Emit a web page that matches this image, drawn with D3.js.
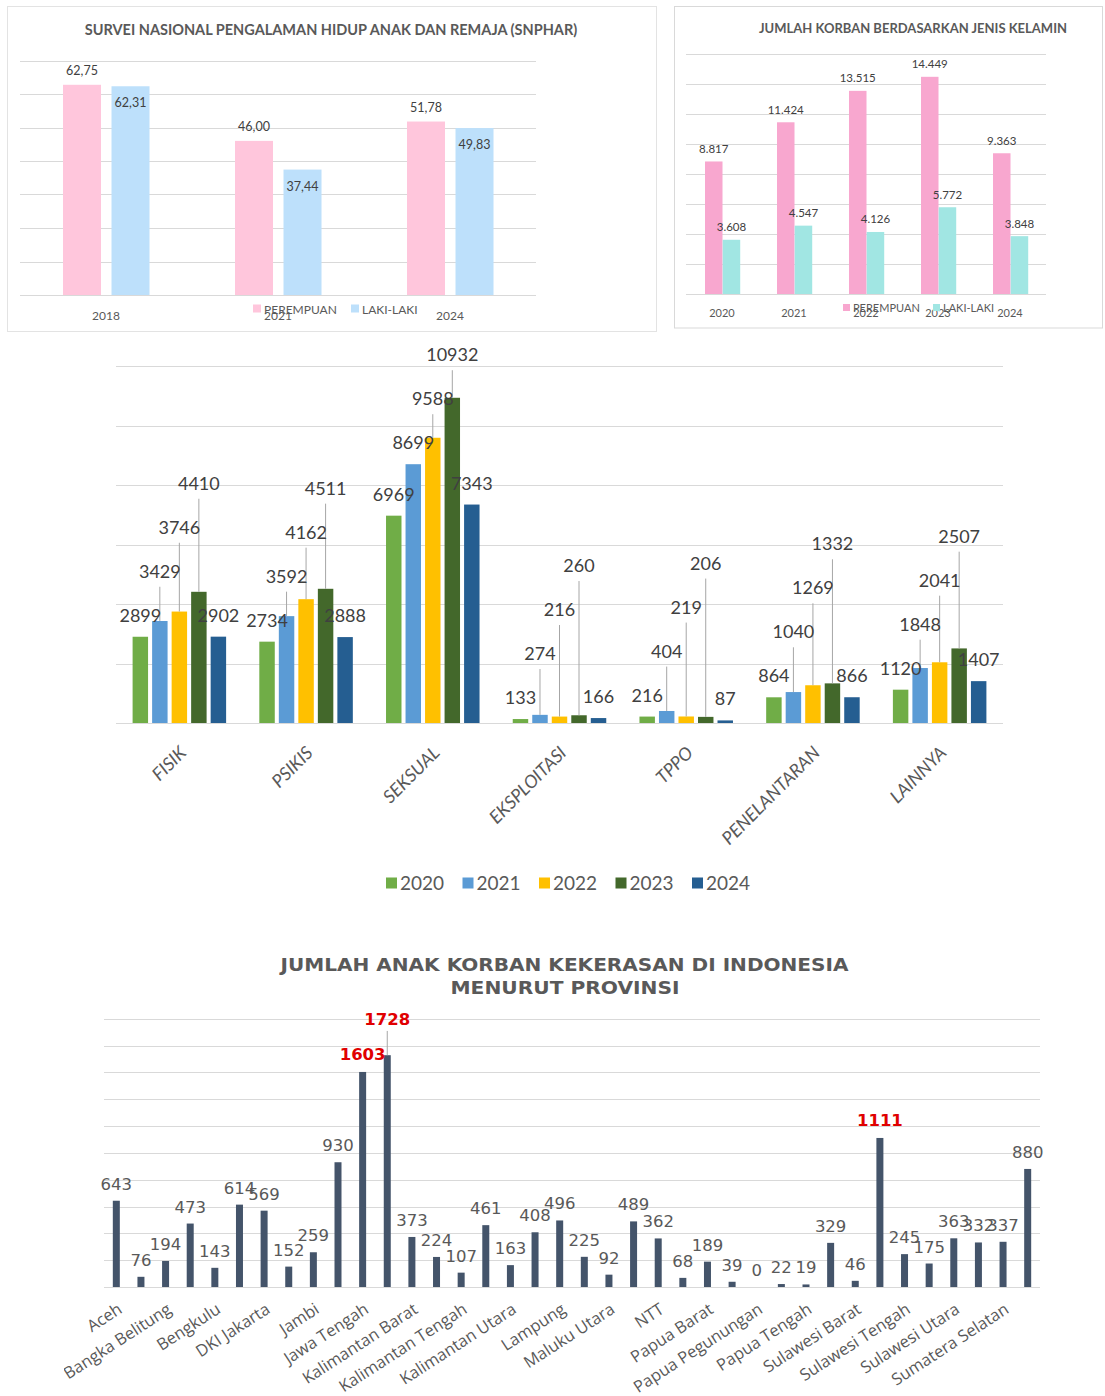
<!DOCTYPE html>
<html>
<head>
<meta charset="utf-8">
<script src="https://cdn.jsdelivr.net/npm/d3@7"></script>
<style>
  html, body { margin: 0; padding: 0; background: #fff; }
  svg { display: block; }
</style>
</head>
<body>
<svg id="chart" width="1105" height="1396"></svg>
<script>
// ---------- SNPHAR survey (percent) ----------
const snpharYears = ["2018", "2021", "2024"];
const snpharPerempuan = [62.75, 46.00, 51.78];
const snpharLaki = [62.31, 37.44, 49.83];
const snpharTicks = [0, 10, 20, 30, 40, 50, 60, 70];

// ---------- Victims by sex ----------
const genderYears = ["2020", "2021", "2022", "2023", "2024"];
const korbanPerempuan = [8817, 11424, 13515, 14449, 9363];
const korbanLaki = [3608, 4547, 4126, 5772, 3848];
const genderTicks = [0, 2000, 4000, 6000, 8000, 10000, 12000, 14000, 16000];

// ---------- Victims by type of violence ----------
const jenisKategori = ["FISIK", "PSIKIS", "SEKSUAL", "EKSPLOITASI", "TPPO", "PENELANTARAN", "LAINNYA"];
const jenisTahun = ["2020", "2021", "2022", "2023", "2024"];
const jenis2020 = [2899, 2734, 6969, 133, 216, 864, 1120];
const jenis2021 = [3429, 3592, 8699, 274, 404, 1040, 1848];
const jenis2022 = [3746, 4162, 9588, 216, 219, 1269, 2041];
const jenis2023 = [4410, 4511, 10932, 260, 206, 1332, 2507];
const jenis2024 = [2902, 2888, 7343, 166, 87, 866, 1407];
const jenisTicks = [0, 2000, 4000, 6000, 8000, 10000, 12000];

// ---------- Child victims by province ----------
const provinsi = [
  "Aceh", "Bali", "Bangka Belitung", "Banten", "Bengkulu", "DI Yogyakarta",
  "DKI Jakarta", "Gorontalo", "Jambi", "Jawa Barat", "Jawa Tengah", "Jawa Timur",
  "Kalimantan Barat", "Kalimantan Selatan", "Kalimantan Tengah", "Kalimantan Timur",
  "Kalimantan Utara", "Kepulauan Riau", "Lampung", "Maluku", "Maluku Utara", "NTB",
  "NTT", "Papua", "Papua Barat", "Papua Barat Daya", "Papua Pegunungan", "Papua Selatan",
  "Papua Tengah", "Riau", "Sulawesi Barat", "Sulawesi Selatan", "Sulawesi Tengah",
  "Sulawesi Tenggara", "Sulawesi Utara", "Sumatera Barat", "Sumatera Selatan", "Sumatera Utara"
];
const korbanProvinsi = [
  643, 76, 194, 473, 143, 614, 569, 152, 259, 930, 1603, 1728, 373, 224, 107, 461, 163, 408,
  496, 225, 92, 489, 362, 68, 189, 39, 0, 22, 19, 329, 46, 1111, 245, 175, 363, 332, 337, 880
];
const provinsiSorotan = ["Jawa Tengah", "Jawa Timur", "Sulawesi Selatan"];
const provinsiTicks = [0, 200, 400, 600, 800, 1000, 1200, 1400, 1600, 1800, 2000];

// ---------- styling ----------
const palette = {
  pinkSoft: "#ffc6dc", blueSoft: "#bde0fb",
  pink: "#f8a7cf", teal: "#a1e6e3",
  years: ["#70ad47", "#5b9bd5", "#ffc000", "#43682b", "#255e91"],
  slate: "#44546a", grid: "#d9d9d9", text: "#595959", label: "#404040",
  leader: "#a6a6a6", red: "#e00000"
};
const sans = "Lato, 'Open Sans', sans-serif";

const svg = d3.select("#chart");
svg.append("rect").attr("width", 1105).attr("height", 1396).attr("fill", "#fff");
const defs = svg.append("defs");

function gridLines(g, ticks, y, x0, x1) {
  g.append("g").selectAll("line").data(ticks).join("line")
    .attr("x1", x0).attr("x2", x1)
    .attr("y1", d => Math.round(y(d)) + 0.5).attr("y2", d => Math.round(y(d)) + 0.5)
    .attr("stroke", palette.grid).attr("stroke-width", 1.2);
}

// =============== Panel 1: SNPHAR ===============
{
  const g = svg.append("g");
  g.append("rect").attr("x", 7.5).attr("y", 6.5).attr("width", 649).attr("height", 325)
    .attr("fill", "none").attr("stroke", "#e3e3e3");
  g.append("text").attr("x", 331).attr("y", 35).attr("text-anchor", "middle")
    .attr("font-family", sans).attr("font-weight", 700).attr("font-size", 14.5)
    .attr("fill", palette.text)
    .text("SURVEI NASIONAL PENGALAMAN HIDUP ANAK DAN REMAJA (SNPHAR)");

  const x = d3.scaleBand().domain(snpharYears).range([20, 536]);
  const y = d3.scaleLinear().domain([0, 70]).range([295, 60.5]);
  const bw = x.bandwidth();
  gridLines(g, snpharTicks, y, 20, 536);

  const series = [
    { vals: snpharPerempuan, color: palette.pinkSoft, off: 0.25, inside: false },
    { vals: snpharLaki, color: palette.blueSoft, off: 0.532, inside: true }
  ];
  series.forEach(s => {
    g.append("g").selectAll("rect").data(snpharYears).join("rect")
      .attr("x", d => x(d) + bw * s.off).attr("width", bw * 0.221)
      .attr("y", (d, i) => y(s.vals[i])).attr("height", (d, i) => y(0) - y(s.vals[i]))
      .attr("fill", s.color);
    g.append("g").selectAll("text").data(snpharYears).join("text")
      .attr("x", d => x(d) + bw * (s.off + 0.1105))
      .attr("y", (d, i) => s.inside ? y(s.vals[i]) + 21 : y(s.vals[i]) - 10)
      .attr("text-anchor", "middle").attr("font-family", sans).attr("font-size", 12.5)
      .attr("fill", palette.label)
      .text((d, i) => d3.format(".2f")(s.vals[i]).replace(".", ","));
  });
  g.append("g").selectAll("text").data(snpharYears).join("text")
    .attr("x", d => x(d) + bw / 2).attr("y", 320).attr("text-anchor", "middle")
    .attr("font-family", sans).attr("font-size", 12).attr("fill", palette.text).text(d => d);

  const leg = [["PEREMPUAN", palette.pinkSoft, 253], ["LAKI-LAKI", palette.blueSoft, 351]];
  leg.forEach(([name, c, lx]) => {
    g.append("rect").attr("x", lx).attr("y", 304.5).attr("width", 8).attr("height", 8).attr("fill", c);
    g.append("text").attr("x", lx + 11).attr("y", 314).attr("font-family", sans)
      .attr("font-size", 12).attr("fill", palette.text).text(name);
  });
}

// =============== Panel 2: victims by sex ===============
{
  const g = svg.append("g");
  g.append("rect").attr("x", 674.5).attr("y", 6.5).attr("width", 428).attr("height", 321.5)
    .attr("fill", "none").attr("stroke", "#d9d9d9");
  g.append("text").attr("x", 913).attr("y", 33).attr("text-anchor", "middle")
    .attr("font-family", sans).attr("font-weight", 700).attr("font-size", 13)
    .attr("fill", palette.text).text("JUMLAH KORBAN BERDASARKAN JENIS KELAMIN");

  const x = d3.scaleBand().domain(genderYears).range([686, 1046]);
  const y = d3.scaleLinear().domain([0, 16000]).range([294, 53.5]);
  const bw = x.bandwidth();
  gridLines(g, genderTicks, y, 686, 1046);
  const fmt = d3.formatLocale({ decimal: ",", thousands: ".", grouping: [3], currency: ["", ""] }).format(",d");

  const series = [
    { vals: korbanPerempuan, color: palette.pink, off: 0.264 },
    { vals: korbanLaki, color: palette.teal, off: 0.51 }
  ];
  series.forEach(s => {
    g.append("g").selectAll("rect").data(genderYears).join("rect")
      .attr("x", d => x(d) + bw * s.off).attr("width", bw * 0.243)
      .attr("y", (d, i) => y(s.vals[i])).attr("height", (d, i) => y(0) - y(s.vals[i]))
      .attr("fill", s.color);
    g.append("g").selectAll("text").data(genderYears).join("text")
      .attr("x", d => x(d) + bw * (s.off + 0.1215))
      .attr("y", (d, i) => y(s.vals[i]) - 8.5)
      .attr("text-anchor", "middle").attr("font-family", sans).attr("font-size", 11.5)
      .attr("fill", palette.label).text((d, i) => fmt(s.vals[i]));
  });
  g.append("g").selectAll("text").data(genderYears).join("text")
    .attr("x", d => x(d) + bw / 2).attr("y", 316.5).attr("text-anchor", "middle")
    .attr("font-family", sans).attr("font-size", 11).attr("fill", palette.text).text(d => d);

  const leg = [["PEREMPUAN", palette.pink, 843], ["LAKI-LAKI", palette.teal, 933]];
  leg.forEach(([name, c, lx]) => {
    g.append("rect").attr("x", lx).attr("y", 304).attr("width", 7).attr("height", 7).attr("fill", c);
    g.append("text").attr("x", lx + 10).attr("y", 312).attr("font-family", sans)
      .attr("font-size", 11).attr("fill", palette.text).text(name);
  });
}

// =============== Panel 3: victims by type of violence ===============
{
  defs.append("clipPath").attr("id", "clip-jenis")
    .append("rect").attr("x", 0).attr("y", 336).attr("width", 1105).attr("height", 600);
  const g = svg.append("g").attr("clip-path", "url(#clip-jenis)");
  const x = d3.scaleBand().domain(jenisKategori).range([116, 1003]);
  const y = d3.scaleLinear().domain([0, 12000]).range([723, 366]);
  const bw = x.bandwidth();
  gridLines(g, jenisTicks, y, 116, 1003);

  const series = [jenis2020, jenis2021, jenis2022, jenis2023, jenis2024];
  const barW = bw * 0.122, stepX = bw * 0.154;
  const barX = (cat, si) => x(cat) + (bw - (4 * stepX + barW)) / 2 + si * stepX;

  series.forEach((vals, si) => {
    g.append("g").selectAll("rect").data(jenisKategori).join("rect")
      .attr("x", d => barX(d, si)).attr("width", barW)
      .attr("y", (d, i) => y(vals[i])).attr("height", (d, i) => y(0) - y(vals[i]))
      .attr("fill", palette.years[si]);
  });

  // value labels: a label that would crowd its neighbour climbs above it,
  // and the following ones keep climbing; a leader line ties it to its bar
  const leaders = g.append("g"), labels = g.append("g");
  const capH = 13, climb = 44, pad = 32, minOverlap = 8, last = series.length - 1;
  jenisKategori.forEach((cat, ci) => {
    const placed = [];
    series.forEach((vals, si) => {
      const v = vals[ci];
      const cx = barX(cat, si) + barW / 2;
      const top = y(v);
      const t = labels.append("text").attr("x", cx).attr("text-anchor", "middle")
        .attr("font-family", sans).attr("font-size", 18).attr("fill", palette.label).text(v);
      const w = t.node().getComputedTextLength();
      const natural = top - 15;
      const clash = (p, b) =>
        (Math.min(cx + w / 2, p.cx + p.w / 2) - Math.max(cx - w / 2, p.cx - p.w / 2) > minOverlap) &&
        (Math.abs(b - p.base) - capH < pad);
      let base = natural, lifted = false;
      const prev = placed[placed.length - 1];
      if (si > 0 && si < last) {
        if (prev.lifted || clash(prev, natural)) { base = Math.min(natural, prev.base - climb); lifted = true; }
      } else if (si === last) {
        const hit = placed.filter(p => clash(p, natural));
        if (hit.length) { base = d3.min(hit, p => p.base) - climb; lifted = true; }
      }
      t.attr("y", base);
      placed.push({ cx, w, base, lifted });
      if (lifted) {
        leaders.append("line").attr("x1", cx).attr("x2", cx)
          .attr("y1", base + 9).attr("y2", top)
          .attr("stroke", palette.leader).attr("stroke-width", 1);
      }
    });
  });

  g.append("g").selectAll("text").data(jenisKategori).join("text")
    .attr("transform", d => `translate(${x(d) + bw / 2 + 8},754) rotate(-45)`)
    .attr("text-anchor", "end").attr("font-family", sans).attr("font-style", "italic")
    .attr("font-size", 18).attr("fill", palette.text).text(d => d);

  const legend = svg.append("g");
  jenisTahun.forEach((yr, i) => {
    const lx = 386 + i * 76.5;
    legend.append("rect").attr("x", lx).attr("y", 877.5).attr("width", 11).attr("height", 11)
      .attr("fill", palette.years[i]);
    legend.append("text").attr("x", lx + 14).attr("y", 889.5).attr("font-family", sans)
      .attr("font-size", 19).attr("fill", palette.text).text(yr);
  });
}

// =============== Panel 4: child victims by province ===============
{
  defs.append("clipPath").attr("id", "clip-prov")
    .append("rect").attr("x", 64).attr("y", 900).attr("width", 1041).attr("height", 496);
  const g = svg.append("g").attr("clip-path", "url(#clip-prov)");
  const dv = "'DejaVu Sans', Verdana, sans-serif";

  g.append("text").attr("x", 564.5).attr("y", 970.5).attr("text-anchor", "middle")
    .attr("font-family", dv).attr("font-weight", 700).attr("font-size", 17.5)
    .attr("textLength", 568).attr("lengthAdjust", "spacingAndGlyphs")
    .attr("fill", palette.text).text("JUMLAH ANAK KORBAN KEKERASAN DI INDONESIA");
  g.append("text").attr("x", 565).attr("y", 993.5).attr("text-anchor", "middle")
    .attr("font-family", dv).attr("font-weight", 700).attr("font-size", 17.5)
    .attr("textLength", 229).attr("lengthAdjust", "spacingAndGlyphs")
    .attr("fill", palette.text).text("MENURUT PROVINSI");

  const x = d3.scaleBand().domain(provinsi).range([104, 1040]);
  const y = d3.scaleLinear().domain([0, 2000]).range([1287, 1018.7]);
  const bw = x.bandwidth();
  gridLines(g, provinsiTicks, y, 104, 1040);

  const barW = 7;
  g.append("g").selectAll("rect").data(provinsi).join("rect")
    .attr("x", d => x(d) + (bw - barW) / 2).attr("width", barW)
    .attr("y", (d, i) => y(korbanProvinsi[i]))
    .attr("height", (d, i) => y(0) - y(korbanProvinsi[i]))
    .attr("fill", palette.slate);

  const leaders = g.append("g"), labels = g.append("g");
  const climb = 35, pad = 32, minOverlap = 8;
  let prev = null;
  provinsi.forEach((p, i) => {
    const v = korbanProvinsi[i];
    const hot = provinsiSorotan.includes(p);
    const cx = x(p) + bw / 2;
    const top = y(v);
    const capH = 11.7;
    const t = labels.append("text").attr("x", cx).attr("text-anchor", "middle")
      .attr("font-family", dv).attr("font-size", 16.5)
      .attr("font-weight", hot ? 700 : 400)
      .attr("fill", hot ? palette.red : palette.text).text(v);
    const w = t.node().getComputedTextLength();
    let base = top - (hot ? 12 : 11), lifted = false;
    if (prev &&
        (Math.min(cx + w / 2, prev.cx + prev.w / 2) - Math.max(cx - w / 2, prev.cx - prev.w / 2) > minOverlap) &&
        (Math.abs(base - prev.base) - capH < pad)) {
      base = prev.base - climb; lifted = true;
    }
    t.attr("y", base);
    if (lifted) {
      leaders.append("line").attr("x1", cx).attr("x2", cx).attr("y1", base + 6).attr("y2", top)
        .attr("stroke", palette.leader).attr("stroke-width", 1);
    }
    prev = { cx, w, base };
  });

  g.append("g").selectAll("text").data(provinsi.filter((d, i) => i % 2 === 0)).join("text")
    .attr("transform", d => `translate(${x(d) + bw / 2 + 7},1312) rotate(-33)`)
    .attr("text-anchor", "end").attr("font-family", "'Open Sans', sans-serif")
    .attr("font-size", 16.5).attr("fill", palette.text).text(d => d);
}
</script>
</body>
</html>
